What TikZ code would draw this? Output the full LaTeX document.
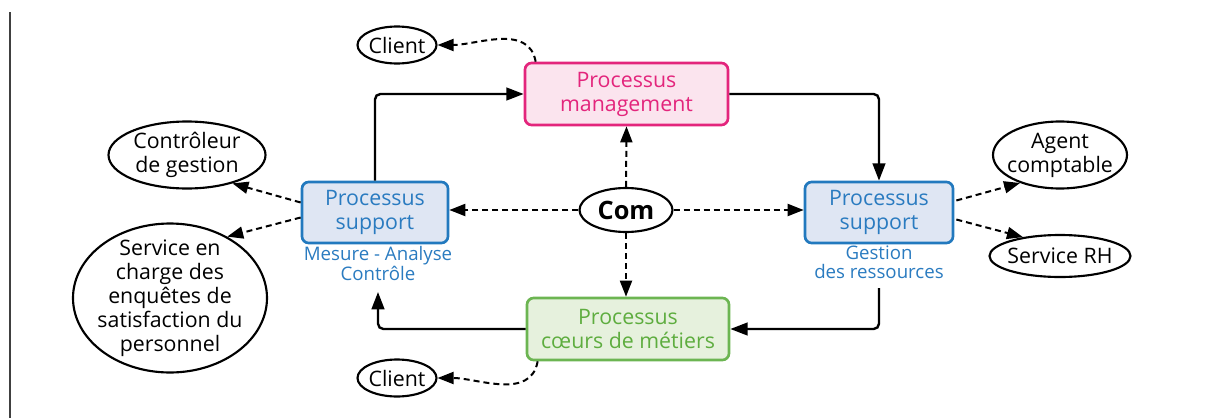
\documentclass[tikz,border=0pt]{standalone}
\usepackage{fontspec}
\setmainfont{Open Sans}
\usetikzlibrary{shapes.geometric,arrows.meta,calc}

\definecolor{mgtext}{HTML}{E3257C}
\definecolor{mgfill}{HTML}{FBE4EE}
\definecolor{bltext}{HTML}{2A7BC0}
\definecolor{blfill}{HTML}{DFE6F3}
\definecolor{bldraw}{HTML}{2279BE}
\definecolor{grtext}{HTML}{5EAD3F}
\definecolor{grfill}{HTML}{E6F1DD}
\definecolor{grdraw}{HTML}{6CB552}

\begin{document}
\begin{tikzpicture}[x=0.75pt,y=-0.75pt,
  proc/.style={draw, rounded corners=5pt, line width=2pt, align=center,
    inner sep=0pt, font=\fontsize{16}{18}\selectfont},
  ext/.style={draw, ellipse, line width=1.6pt, inner sep=0pt},
  etext/.style={align=center, inner sep=0pt, font=\fontsize{16}{18}\selectfont},
  flow/.style={line width=1.8pt, rounded corners=4pt,
    -{Triangle[length=13pt,width=9.5pt]}},
  link/.style={line width=1.5pt, dash pattern=on 4.5pt off 3pt,
    -{Triangle[length=12pt,width=9pt]}},
  tag/.style={align=center, inner sep=0pt, text=bltext,
    font=\fontsize{14}{14}\selectfont}
]
\useasboundingbox (0,0) rectangle (1215,418);

% margin rule on the left
\draw[line width=0.9pt, black!75] (10,12) -- (10,418);

% process boxes
\node[proc, draw=mgtext, fill=mgfill, text=mgtext,
  minimum width=152.25pt, minimum height=46.5pt] (pm) at (626.5,94) {Processus\\management};
\node[proc, draw=bldraw, fill=blfill, text=bltext,
  minimum width=109.5pt, minimum height=45.75pt] (ls) at (375,212.5) {Processus\\support};
\node[proc, draw=bldraw, fill=blfill, text=bltext,
  minimum width=111pt, minimum height=45.75pt] (rs) at (879,212.5) {Processus\\support};
\node[proc, draw=grdraw, fill=grfill, text=grtext,
  minimum width=151.5pt, minimum height=46.5pt] (pg) at (628,329) {Processus\\cœurs de métiers};

% captions under the support boxes
\node[tag, anchor=north] (lsl) at (378,246) {Mesure - Analyse\\Contrôle};
\node[tag, anchor=north] (rsl) at (879,246) {Gestion\\des ressources};
\coordinate (lret) at (378,292);
\coordinate (rret) at (879,288);

% external actors
\node[ext, minimum width=69.75pt, minimum height=33pt,
  label={[etext, font=\fontsize{19}{22}\selectfont\bfseries]center:Com}] (com) at (626,210) {};
\node[ext, minimum width=59.25pt, minimum height=27.75pt,
  label={[etext]center:Client}] (c1) at (397,45) {};
\node[ext, minimum width=59.25pt, minimum height=27.75pt,
  label={[etext]center:Client}] (c2) at (397,378) {};
\node[ext, minimum width=117.75pt, minimum height=50.25pt,
  label={[etext]center:Contrôleur\\de gestion}] (ctrl) at (187,155) {};
\node[ext, minimum width=145.5pt, minimum height=111.75pt,
  label={[etext]center:Service en\\charge des\\enquêtes de\\satisfaction du\\personnel}] (serv) at (170,298) {};
\node[ext, minimum width=100.5pt, minimum height=50.25pt,
  label={[etext]center:Agent\\comptable}] (agent) at (1060,155) {};
\node[ext, minimum width=105.75pt, minimum height=31.5pt,
  label={[etext]center:Service RH}] (rh) at (1060,256) {};

% main process loop
\draw[flow] (ls.north) |- (pm.west);
\draw[flow] (pm.east) -| (rs.north);
\draw[flow] (rret) |- (pg.east);
\draw[flow] (pg.west) -| (lret);

% communication links
\draw[link] (com.north) -- (pm.south);
\draw[link] (com.south) -- (com.south |- pg.north);
\draw[link] (com.west) -- (com.west -| ls.east);
\draw[link] (com.east) -- (com.east -| rs.west);

% links to the actors
\draw[link] ($(ls.west)+(0,-10)$) -- (ctrl.-32);
\draw[link] ($(ls.west)+(0,5)$) -- (serv.47);
\draw[link] ($(rs.east)+(2,-12)$) -- (agent.215);
\draw[link] ($(rs.east)+(2,7)$) -- (rh.153);
\draw[link] ($(pm.north west)+(12,0)$) to[out=100,in=0] (c1.east);
\draw[link] ($(pg.south west)+(12,0)$) to[out=-100,in=0] (c2.east);
\end{tikzpicture}
\end{document}
